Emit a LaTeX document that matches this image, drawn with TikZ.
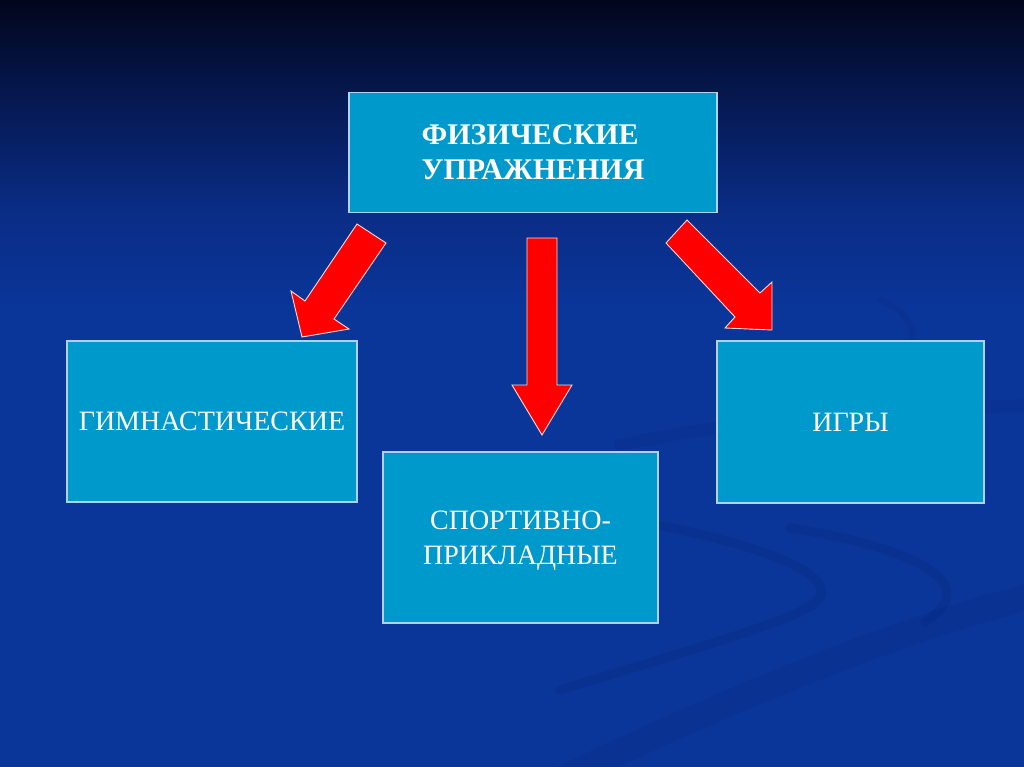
\documentclass[tikz,border=0pt]{standalone}
\usepackage{fontspec}
\setmainfont{Liberation Serif}
\definecolor{bgT}{RGB}{1,6,28}
\definecolor{bgA}{RGB}{6,26,85}
\definecolor{bgM}{RGB}{10,45,135}
\definecolor{bgB}{RGB}{10,53,153}
\definecolor{boxfill}{RGB}{0,153,204}
\definecolor{boxline}{RGB}{176,210,240}
\definecolor{swoosh}{RGB}{4,36,115}
\pgfdeclareverticalshading{bgshade}{100bp}{color(0bp)=(bgB); color(25bp)=(bgB); color(55bp)=(bgB); color(61bp)=(bgM); color(68bp)=(bgA); color(75bp)=(bgT); color(100bp)=(bgT)}
\tikzset{
  box/.style={draw=boxline, line width=1.3pt, fill=boxfill, inner sep=0pt,
    text=white, text depth=0pt, font=\fontsize{28}{35}\selectfont},
  blockarrow/.style={fill=red, draw=white!85!red, line width=0.9pt, line join=miter},
  swooshline/.style={draw=swoosh, opacity=0.22, line cap=round}
}
\begin{document}
\begin{tikzpicture}[x=1pt,y=-1pt]
\useasboundingbox (0,0) rectangle (1024,767);
\shade[shading=bgshade] (0,0) rectangle (1024,767);
% background swooshes
\draw[swooshline, line width=9pt] (640,522) .. controls (770,545) and (850,580) .. (812,605) .. controls (780,625) and (690,650) .. (560,690);
\draw[swooshline, line width=9pt] (790,528) .. controls (900,545) and (990,580) .. (925,622);
\draw[swooshline, line width=26pt, opacity=0.16] (560,780) .. controls (760,685) and (900,630) .. (1035,595);
\draw[swooshline, line width=12pt, opacity=0.14] (620,445) .. controls (760,415) and (900,410) .. (1035,405);
\draw[swooshline, line width=6pt, opacity=0.14] (880,300) .. controls (905,310) and (915,325) .. (912,345);
% boxes
\node[box, minimum width=368pt, minimum height=120pt, align=left, font=\fontsize{30}{35}\selectfont\bfseries] (phys) at (533,152.5) {ФИЗИЧЕСКИЕ\\УПРАЖНЕНИЯ};
\node[box, minimum width=290pt, minimum height=161pt] (gym) at (212,421.5) {ГИМНАСТИЧЕСКИЕ};
\node[box, minimum width=267pt, minimum height=162pt] (games) at (850.5,422) {ИГРЫ};
\node[box, minimum width=275pt, minimum height=171pt, align=center] (sport) at (520.5,537.5) {СПОРТИВНО-\\ПРИКЛАДНЫЕ};
% block arrows
\coordinate (la) at (357,224);
\draw[blockarrow] (la) -- (386,243) -- (334,319) -- (349,329) -- (302,337) -- (291,291) -- (305,301) -- cycle;
\coordinate (ma) at (527,238);
\draw[blockarrow] (ma) -- (557,238) -- (557,385) -- (572,385) -- (542,435) -- (512,385) -- (527,385) -- cycle;
\coordinate (ra) at (666,243);
\draw[blockarrow] (ra) -- (687,220) -- (760,293) -- (772,282) -- (772,330) -- (725,328) -- (735,317) -- cycle;
\end{tikzpicture}
\end{document}
